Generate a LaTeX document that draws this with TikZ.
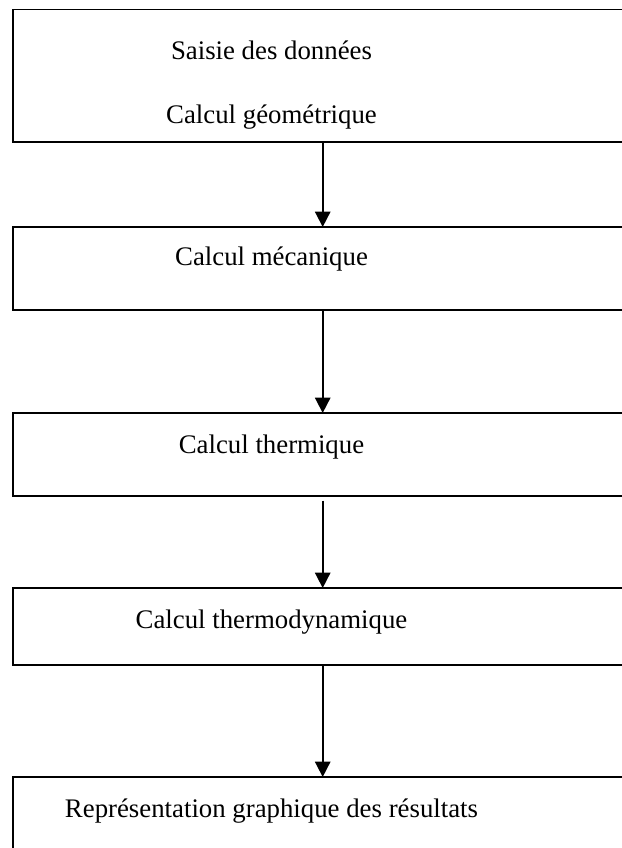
\documentclass[tikz,border=0pt]{standalone}
\usepackage{fontspec}
\setmainfont{Liberation Serif}
\usetikzlibrary{arrows.meta}
\begin{document}
\begin{tikzpicture}[x=0.75pt,y=-0.75pt,
  box/.style={draw=black,line width=1.3pt,inner sep=0pt,outer sep=0pt,anchor=north west,minimum width=470pt},
  lbl/.style={inner sep=0pt,anchor=base,font=\fontsize{20.1}{24}\selectfont},
  flow/.style={draw=black,line width=1.3pt,-{Triangle[width=11.5pt,length=11.5pt]}}]
\useasboundingbox (0,0) rectangle (621,848);
\node[box,minimum height=99.4pt] (b1) at (13,9.5) {};
\node[box,minimum height=62.25pt] (b2) at (13,227) {};
\node[box,minimum height=62.25pt] (b3) at (13,413) {};
\node[box,minimum height=57.75pt] (b4) at (13,588) {};
\node[box,minimum height=77.25pt] (b5) at (13,777) {};
\node[lbl] (t1a) at (271.5,60) {Saisie des données};
\node[lbl] (t1b) at (271.5,124) {Calcul géométrique};
\node[lbl] (t2) at (271.5,265.5) {Calcul mécanique};
\node[lbl] (t3) at (271.5,453) {Calcul thermique};
\node[lbl] (t4) at (271.5,628) {Calcul thermodynamique};
\node[lbl] (t5) at (271.5,817) {Représentation graphique des résultats};
\coordinate (ax) at (322.7,0);
\coordinate (a3s) at (322.7,500.5);
\draw[flow] (b1.south -| ax) -- (b2.north -| ax);
\draw[flow] (b2.south -| ax) -- (b3.north -| ax);
\draw[flow] (a3s) -- (b4.north -| ax);
\draw[flow] (b4.south -| ax) -- (b5.north -| ax);
\end{tikzpicture}
\end{document}
